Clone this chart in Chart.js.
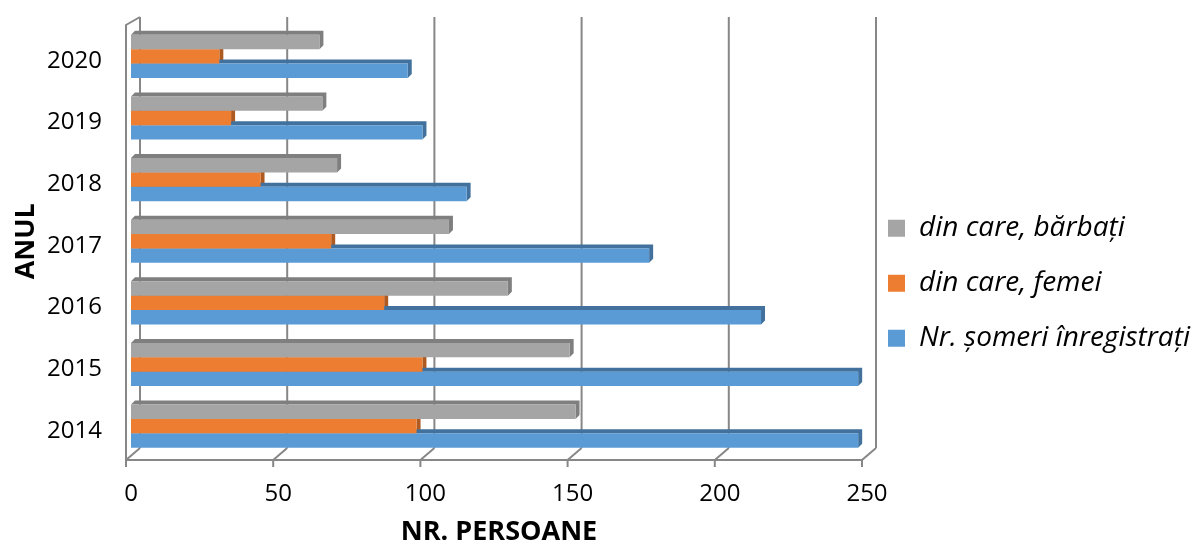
<!DOCTYPE html>
<html>
<head>
<meta charset="utf-8">
<script src="https://cdn.jsdelivr.net/npm/chart.js@4"></script>
<style>
  html, body { margin: 0; padding: 0; background: #fff; }
</style>
</head>
<body>
<canvas id="chart" width="1200" height="549"></canvas>
<script>
// Data (persons)
const years = ['2014', '2015', '2016', '2017', '2018', '2019', '2020'];
const registered = [247, 247, 214, 176, 114, 99, 94];
const women = [97, 99, 86, 68, 44, 34, 30];
const men = [151, 149, 128, 108, 70, 65, 64];
const xTicks = [0, 50, 100, 150, 200, 250];

const FONT = '"Open Sans", "Noto Sans", sans-serif';

// darker shades for the 3D top / side faces
const sideColors = ['#7f7f7f', '#ae5a21', '#41719c'];

// draws the 3D walls / floor and the depth faces of the bars
const depthFrame = {
  id: 'depthFrame',
  beforeDatasetsDraw(chart) {
    const ctx = chart.ctx;
    const xs = chart.scales.x;
    const area = chart.chartArea;
    const fx = v => xs.getPixelForValue(v) - 5;  // front edge
    const bx = v => xs.getPixelForValue(v) + 9;  // back wall
    const frontTop = area.top - 0.5, backTop = area.top - 8.5;
    const frontFloor = area.bottom + 3, backFloor = area.bottom - 9;

    ctx.save();
    ctx.strokeStyle = '#878787';
    ctx.lineWidth = 2;
    ctx.beginPath();
    xTicks.forEach(v => {
      // back wall grid lines
      ctx.moveTo(bx(v), backTop);
      ctx.lineTo(bx(v), backFloor);
      // floor slants
      ctx.moveTo(fx(v), frontFloor);
      ctx.lineTo(bx(v), backFloor);
      // tick marks
      ctx.moveTo(fx(v), frontFloor);
      ctx.lineTo(fx(v), frontFloor + 7);
    });
    // left wall front edge
    ctx.moveTo(bx(0), backTop);
    ctx.lineTo(fx(0), frontTop);
    ctx.lineTo(fx(0), frontFloor);
    // floor front edge
    ctx.lineTo(fx(xTicks[xTicks.length - 1]), frontFloor);
    ctx.stroke();

    // top and right faces of the bars
    const d = 4;
    chart.data.datasets.forEach((ds, i) => {
      const meta = chart.getDatasetMeta(i);
      ctx.fillStyle = sideColors[i];
      meta.data.forEach(bar => {
        const p = bar.getProps(['x', 'y', 'base', 'height'], true);
        const top = p.y - p.height / 2, bottom = p.y + p.height / 2;
        ctx.beginPath();
        ctx.moveTo(p.base, top);
        ctx.lineTo(p.base + d, top - d);
        ctx.lineTo(p.x + d, top - d);
        ctx.lineTo(p.x + d, bottom - d);
        ctx.lineTo(p.x, bottom);
        ctx.lineTo(p.x, top);
        ctx.closePath();
        ctx.fill();
      });
    });
    ctx.restore();
  }
};

// nudge the legend into place
const legendShift = {
  id: 'legendShift',
  afterLayout(chart) {
    const lg = chart.legend;
    lg.left -= 6; lg.right -= 6;
    lg.top -= 4; lg.bottom -= 4;
  }
};

new Chart(document.getElementById('chart').getContext('2d'), {
  type: 'bar',
  data: {
    labels: years,
    datasets: [
      { label: 'din care, bărbați', data: men, backgroundColor: '#a5a5a5', borderWidth: 0 },
      { label: 'din care, femei', data: women, backgroundColor: '#ed7d31', borderWidth: 0 },
      { label: 'Nr. șomeri înregistrați', data: registered, backgroundColor: '#5b9bd5', borderWidth: 0 }
    ]
  },
  options: {
    indexAxis: 'y',
    responsive: false,
    animation: false,
    layout: { padding: { top: 25.5, left: 0, right: 0, bottom: 0 } },
    datasets: { bar: { categoryPercentage: 0.7, barPercentage: 1 } },
    scales: {
      x: {
        min: 0,
        max: 250,
        afterBuildTicks: scale => { scale.ticks = xTicks.map(v => ({ value: v })); },
        afterFit: scale => { scale.height = 92; },
        grid: { display: false, drawTicks: false },
        border: { display: false },
        ticks: { color: '#000', font: { family: FONT, size: 24 }, padding: 23 },
        title: {
          display: true, text: 'NR. PERSOANE', color: '#000',
          font: { family: FONT, size: 27, weight: 'bold' }, padding: { top: 0, bottom: 0 }
        }
      },
      y: {
        reverse: true,
        afterFit: scale => {
          scale.width = 131;
          scale.paddingTop = 0;
          scale.paddingBottom = 0;
        },
        grid: { display: false, drawTicks: false },
        border: { display: false },
        ticks: { color: '#000', font: { family: FONT, size: 24 }, padding: 29, labelOffset: 4.5 },
        title: {
          display: true, text: 'ANUL', color: '#000',
          font: { family: FONT, size: 27, weight: 'bold' }, padding: { top: 10, bottom: 0 }
        }
      }
    },
    plugins: {
      tooltip: { enabled: false },
      legend: {
        position: 'right',
        maxWidth: 333,
        labels: {
          color: '#000',
          font: { family: FONT, size: 28, style: 'italic' },
          boxWidth: 17,
          boxHeight: 17,
          padding: 27
        }
      }
    }
  },
  plugins: [depthFrame, legendShift]
});
</script>
</body>
</html>
